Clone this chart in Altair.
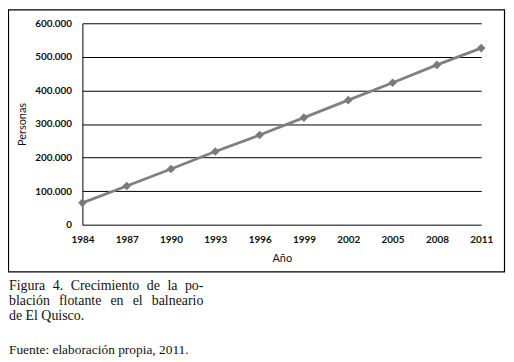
import altair as alt
import pandas as pd

years = [1984, 1987, 1990, 1993, 1996, 1999, 2002, 2005, 2008, 2011]
personas = [65000, 115000, 166000, 218000, 267000, 319000, 371000, 423000, 476000, 526000]
y_ticks = [0, 100000, 200000, 300000, 400000, 500000, 600000]
caption_line1 = ["Figura", "4.", "Crecimiento", "de", "la", "po-"]
caption_line2 = ["blación", "flotante", "en", "el", "balneario"]
caption_line3 = "de El Quisco."
source_line = "Fuente: elaboración propia, 2011."

df = pd.DataFrame({"Año": years, "Personas": personas})

W, H = 402, 203
PX, PY = 83, 22  # page position of plot origin
LABEL_FONT = "Lato"
SERIF = "Liberation Serif"
CAP_SIZE = 14
CAP_LEFT, CAP_RIGHT = 9, 205

# Times-compatible advance widths (per 1000 em) used to justify the caption lines
ADV = {"F": 556, "i": 278, "g": 500, "u": 500, "r": 333, "a": 444, "4": 500, ".": 250,
       "C": 667, "e": 444, "c": 444, "m": 778, "n": 500, "t": 278, "o": 500, "d": 500,
       "l": 278, "p": 500, "-": 333, "b": 500, "ó": 500, "f": 333}


def word_w(w):
    return sum(ADV.get(ch, 500) for ch in w) / 1000 * CAP_SIZE


def justify(words):
    widths = [word_w(w) for w in words]
    gap = (CAP_RIGHT - CAP_LEFT - sum(widths)) / (len(words) - 1)
    xs, cur = [], CAP_LEFT
    for wd in widths:
        xs.append(cur)
        cur += wd + gap
    return xs


base = alt.Chart(df).encode(
    x=alt.X(
        "Año:Q",
        scale=alt.Scale(domain=[years[0], years[-1]], nice=False, zero=False),
        axis=alt.Axis(
            values=years, format="d", title="Año", grid=False, ticks=False,
            domain=False, labelFlush=False, labelPadding=10,
            labelFont=LABEL_FONT, labelFontWeight="bold", labelFontSize=10,
            labelColor="#111", titleFont=LABEL_FONT, titleFontWeight="normal",
            titleFontSize=11, titleColor="#111", titlePadding=8,
        ),
    ),
    y=alt.Y(
        "Personas:Q",
        scale=alt.Scale(domain=[0, 600000], nice=False),
        axis=alt.Axis(
            values=y_ticks, title="Personas", grid=True, gridColor="#000",
            gridOpacity=1, gridWidth=1, ticks=False, domain=True,
            domainColor="#000", domainWidth=1, labelPadding=11,
            labelExpr="replace(format(datum.value, ','), ',', '.')",
            labelFont=LABEL_FONT, labelFontWeight="bold", labelFontSize=10,
            labelColor="#111", titleFont=LABEL_FONT, titleFontWeight="normal",
            titleFontSize=11, titleColor="#111", titlePadding=7,
        ),
    ),
)

line = base.mark_line(color="#808080", strokeWidth=2.8)
pts = base.mark_point(shape="diamond", filled=True, color="#7a7a7a", size=75, opacity=1)

one = pd.DataFrame({"a": [0]})
frame = alt.Chart(one).mark_rect(filled=False, stroke="#000", strokeWidth=1.2).encode(
    x=alt.value(8.5 - PX), x2=alt.value(508.5 - PX),
    y=alt.value(8.5 - PY), y2=alt.value(272.5 - PY)
)


def txt(t, px, base_y, size=CAP_SIZE):
    return alt.Chart(one).mark_text(
        text=t, align="left", baseline="alphabetic", font=SERIF,
        fontSize=size, color="#111"
    ).encode(x=alt.value(px - PX), y=alt.value(base_y - PY))


texts = []
for w, px in zip(caption_line1, justify(caption_line1)):
    texts.append(txt(w, px, 290.5))
for w, px in zip(caption_line2, justify(caption_line2)):
    texts.append(txt(w, px, 305.5))
texts.append(txt(caption_line3, CAP_LEFT, 321))
texts.append(txt(source_line, CAP_LEFT, 355, 13.5))

chart = alt.layer(line, pts, frame, *texts).properties(
    width=W, height=H,
    autosize=alt.AutoSizeParams(type="none"),
    padding={"left": 75, "top": 14, "right": 25, "bottom": 133},
).configure(background="white").configure_view(strokeWidth=0)

chart.save("out.html", embed_options={"renderer": "svg", "actions": False})
